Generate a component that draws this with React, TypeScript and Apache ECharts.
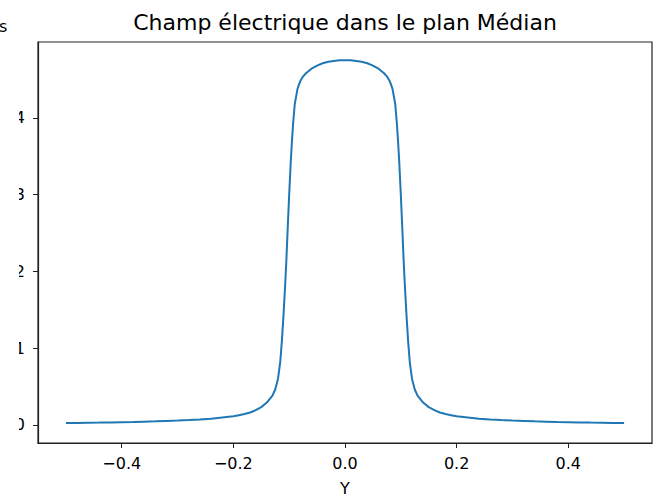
import React, { useEffect, useRef } from "react";
import * as echarts from "echarts";

const TITLE = "Champ électrique dans le plan Médian";
const X_NAME = "Y";
const X_TICKS = [-0.4, -0.2, 0, 0.2, 0.4];
const Y_TICKS = [0, 1, 2, 3, 4];

// Position Y (half curve, y >= 0; the curve is symmetric)
const Y_POS = [
  0.0, 0.01, 0.02, 0.03, 0.04, 0.05, 0.06, 0.07, 0.075, 0.08, 0.085, 0.09,
  0.093, 0.095, 0.097, 0.1, 0.103, 0.105, 0.107, 0.11, 0.113, 0.116, 0.12,
  0.125, 0.13, 0.14, 0.15, 0.16, 0.17, 0.18, 0.19, 0.2, 0.22, 0.24, 0.26, 0.28,
  0.3, 0.32, 0.34, 0.36, 0.38, 0.4, 0.42, 0.44, 0.46, 0.48, 0.5,
];
// Electric field values
const E_VAL = [
  4.75, 4.75, 4.74, 4.73, 4.71, 4.68, 4.64, 4.58, 4.54, 4.48, 4.38, 4.18,
  3.92, 3.7, 3.45, 3.0, 2.5, 2.15, 1.85, 1.45, 1.1, 0.82, 0.6, 0.46, 0.38,
  0.29, 0.23, 0.19, 0.16, 0.14, 0.125, 0.11, 0.095, 0.08, 0.07, 0.062, 0.055,
  0.05, 0.045, 0.041, 0.037, 0.034, 0.031, 0.028, 0.026, 0.024, 0.022,
];

const FONT = "DejaVu Sans";

export default function App() {
  const ref = useRef<HTMLDivElement>(null);
  useEffect(() => {
    if (!ref.current) return;
    const chart = echarts.init(ref.current, null, { renderer: "svg" });
    const data: [number, number][] = [];
    for (let i = Y_POS.length - 1; i > 0; i--) data.push([-Y_POS[i], E_VAL[i]]);
    for (let i = 0; i < Y_POS.length; i++) data.push([Y_POS[i], E_VAL[i]]);
    const fmtX = (v: number) => {
      const s = Math.abs(v).toFixed(1);
      return v < -1e-9 ? "\u2212" + s : s;
    };
    chart.setOption({
      animation: false,
      backgroundColor: "#ffffff",
      grid: {
        left: 38,
        right: 2,
        top: 42,
        bottom: 54,
        outerBoundsMode: "none",
        containLabel: false,
        show: true,
        borderColor: "#222",
        borderWidth: 1.2,
        backgroundColor: "transparent",
      },
      xAxis: {
        type: "value",
        min: -0.55,
        max: 0.55,
        name: X_NAME,
        nameLocation: "middle",
        nameGap: 37,
        nameTextStyle: { fontFamily: FONT, fontSize: 16, color: "#000" },
        axisLine: { show: true, onZero: false, lineStyle: { color: "#222", width: 1.2 } },
        axisTick: { show: true, length: 5, lineStyle: { color: "#222" }, customValues: X_TICKS },
        axisLabel: {
          customValues: X_TICKS,
          formatter: fmtX,
          margin: 12,
          fontFamily: FONT,
          fontSize: 16,
          color: "#000",
        },
        splitLine: { show: false },
      },
      yAxis: {
        type: "value",
        min: -0.2375,
        max: 4.9875,
        axisLine: { show: true, onZero: false, lineStyle: { color: "#222", width: 1.2 } },
        axisTick: { show: true, length: 5, lineStyle: { color: "#222" }, customValues: Y_TICKS },
        axisLabel: {
          customValues: Y_TICKS,
          formatter: (v: number) => String(v),
          margin: 13,
          fontFamily: FONT,
          fontSize: 16,
          color: "#000",
        },
        splitLine: { show: false },
      },
      graphic: [
        {
          type: "text",
          z: 100,
          x: 345,
          y: 22,
          style: {
            text: TITLE,
            fontFamily: FONT,
            fontSize: 22,
            fill: "#000",
            textAlign: "center",
            textVerticalAlign: "middle",
          },
        },
        { type: "rect", z: 100, shape: { x: 0, y: 90, width: 19, height: 350 }, style: { fill: "#ffffff" } },
        { type: "text", z: 100, x: -1, y: 18, style: { text: "s", fontFamily: FONT, fontSize: 16, fill: "#000" } },
      ],
      series: [
        {
          type: "line",
          data,
          showSymbol: false,
          smooth: false,
          lineStyle: { color: "#1f77b4", width: 2 },
        },
      ],
    });
    return () => chart.dispose();
  }, []);
  return (
    <div
      ref={ref}
      style={{ position: "fixed", left: 0, top: 0, width: 654, height: 497, background: "#fff" }}
    />
  );
}
